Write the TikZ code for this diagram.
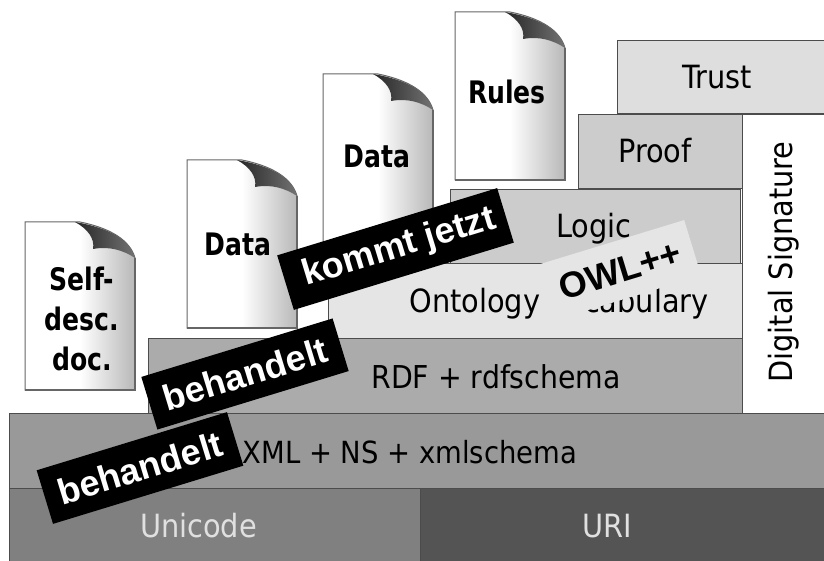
\documentclass[tikz,border=0pt]{standalone}
\usepackage{fontspec}
\setmainfont{DejaVu Sans Condensed}
\newfontfamily\docfont[FakeStretch=0.9]{DejaVu Sans Condensed}
\newfontfamily\stickerfont{Liberation Sans}
\usetikzlibrary{positioning}

\begin{document}
\begin{tikzpicture}[x=1pt,y=-1pt]
        \tikzset{layer/.style = {shape=rectangle,draw=black!70,line width=1pt,inner sep=0pt}}
        \tikzset{layertext/.style = {anchor=base,inner sep=0pt,font=\fontsize{32}{36}\selectfont}}
        \tikzset{doclabel/.style = {align=center,inner sep=0pt,font=\fontsize{31}{40}\docfont\bfseries}}
        \tikzset{sticker/.style = {shape=rectangle,rotate=17,fill=black,text=white,inner sep=0pt,font=\fontsize{36}{40}\stickerfont\bfseries}}
        \tikzset{docpage/.pic = {
            \path[left color=white,right color=black!28,middle color=white,draw=black!60,line width=1pt]
                (0,0) -- (55,0) .. controls (85,6) and (105,18) .. (110,36) -- (110,168) -- (0,168) -- cycle;
            \draw[black!60,line width=1.5pt] (0,168) -- (110,168) -- (110,36);
            \path[left color=black!85,right color=black!55]
                (50,0) .. controls (85,6) and (105,18) .. (110,36) .. controls (98,28) and (84,24) .. (68,27) .. controls (70,17) and (63,7) .. (50,0) -- cycle;
        }}
        \useasboundingbox (0,0) rectangle (824,561);
        % documents
        \pic at (25,222) {docpage};
        \pic at (187,160) {docpage};
        \pic at (323,74) {docpage};
        \pic at (455,12) {docpage};
        \node[doclabel] (selfdesc) at (82,319) {Self-\\desc.\\doc.};
        \node[doclabel,anchor=base] (datalow) at (238,255) {Data};
        \node[doclabel,anchor=base] (datahigh) at (377,168) {Data};
        \node[doclabel,anchor=base] (rules) at (507,104) {Rules};
        % layers
        \node[layer,fill=black!50,minimum width=411pt,minimum height=73pt] (unicode) at (214.5,525) {};
        \node[layer,fill=black!67,minimum width=404pt,minimum height=73pt] (uri) at (622,525) {};
        \node[layer,fill=black!40,minimum width=815pt,minimum height=75pt] (xml) at (416.5,450.5) {};
        \node[layer,fill=black!33,minimum width=594pt,minimum height=75pt] (rdf) at (445,375.5) {};
        \node[layer,fill=black!10,minimum width=414pt,minimum height=74pt] (ontology) at (535,301) {};
        \node[layer,fill=black!20,minimum width=290pt,minimum height=74pt] (logic) at (595,227) {};
        \node[layer,fill=black!20,minimum width=164pt,minimum height=74pt] (proof) at (660,152) {};
        \node[layer,fill=black!13,minimum width=207pt,minimum height=73pt] (trust) at (720.5,77.5) {};
        \node[layer,fill=white,minimum width=82pt,minimum height=298pt] (signature) at (783,264) {};
        % layer texts
        \node[layertext,text=black!12] (unicodetext) at (198.5,537) {Unicode};
        \node[layertext,text=black!12] (uritext) at (607,537) {URI};
        \node[layertext,font=\fontsize{30.5}{36}\selectfont] (xmltext) at (410,463) {XML + NS + xmlschema};
        \node[layertext,font=\fontsize{31.5}{36}\selectfont] (rdftext) at (496,388) {RDF + rdfschema};
        \node[layertext] (ontologytext) at (559,312) {Ontology Vocabulary};
        \node[layertext] (logictext) at (594,238) {Logic};
        \node[layertext] (prooftext) at (655,163) {Proof};
        \node[layertext] (trusttext) at (717,89) {Trust};
        \node[layertext,rotate=90] (signaturetext) at (792,262) {Digital Signature};
        % stickers
        \node[sticker,minimum width=200pt,minimum height=55pt] (behandeltrdf) at (245,374) {behandelt};
        \node[sticker,minimum width=199pt,minimum height=56pt] (behandeltxml) at (140,468) {behandelt};
        \node[sticker,minimum width=230pt,minimum height=57pt] (kommt) at (395.5,249) {\hspace*{8pt}kommt jetzt};
        \node[sticker,fill=black!10,text=black,minimum width=152pt,minimum height=58pt] (owl) at (620,270) {OWL++};
    \end{tikzpicture}
\end{document}
